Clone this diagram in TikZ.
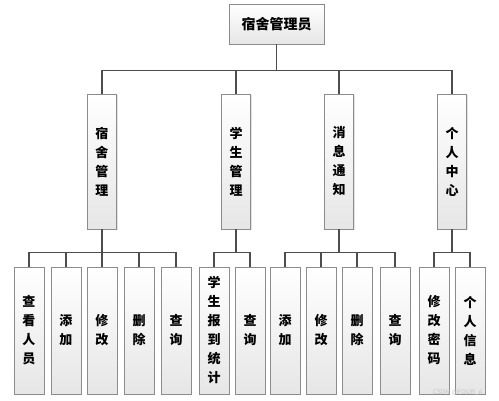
\documentclass[tikz,border=0pt]{standalone}
\usepackage{fontspec}
\setmainfont{Noto Sans CJK SC}
\usepackage{xcolor}
\usepackage{tikz}
\usetikzlibrary{positioning, shadows}
\definecolor{linkgray}{HTML}{4D4D4D}
\definecolor{boxline}{HTML}{8C8C8C}
\definecolor{boxfill}{HTML}{E6E6E6}

\begin{document}
\begin{tikzpicture}[x=1pt, y=1pt,
    box/.style={rectangle, draw=boxline, line width=0.8pt,
                top color=white, bottom color=boxfill,
                drop shadow={shadow xshift=1.2pt, shadow yshift=-1.2pt, fill=gray!45},
                inner sep=0pt, align=center, font=\bfseries\fontsize{13}{19}\selectfont},
    rootbox/.style={box, minimum width=95pt, minimum height=40pt,
                    font=\bfseries\fontsize{14}{16}\selectfont},
    modbox/.style={box, minimum width=29pt, minimum height=135pt},
    leafbox/.style={box, minimum width=30pt, minimum height=127pt},
    link/.style={draw=linkgray, line width=1.2pt}
]
    \useasboundingbox (0,0) rectangle (499,401);

    \node[rootbox] (admin) at (276.5,377) {宿舍管理员};

    % modules
    \node[modbox] (dorm) at (102,239.5) {宿\\舍\\管\\理};
    \node[modbox] (stu)  at (236,239.5) {学\\生\\管\\理};
    \node[modbox] (msg)  at (339,239.5) {消\\息\\通\\知};
    \node[modbox] (me)   at (452,239.5) {个\\人\\中\\心};

    \foreach \m in {dorm, stu, msg, me}
        \draw[link] (admin.south) -- ++(0,-26) -| (\m.north);

    % functions
    \foreach \x/\n/\t in {29/dview/查\\看\\人\\员, 66/dadd/添\\加, 102/dedit/修\\改,
                          139/ddel/删\\除, 176/dquery/查\\询,
                          214/sreport/学\\生\\报\\到\\统\\计, 250/squery/查\\询,
                          285/madd/添\\加, 321/medit/修\\改, 357/mdel/删\\除, 395/mquery/查\\询,
                          434/pwd/修\\改\\密\\码, 470/info/个\\人\\信\\息}
        \node[leafbox] (\n) at (\x,70.5) {\t};

    \foreach \c in {dview, dadd, dedit, ddel, dquery}
        \draw[link] (dorm.south) -- ++(0,-23) -| (\c.north);
    \foreach \c in {sreport, squery}
        \draw[link] (stu.south) -- ++(0,-23) -| (\c.north);
    \foreach \c in {madd, medit, mdel, mquery}
        \draw[link] (msg.south) -- ++(0,-23) -| (\c.north);
    \foreach \c in {pwd, info}
        \draw[link] (me.south) -- ++(0,-23) -| (\c.north);

    \node[font=\fontsize{6.5}{7}\selectfont, text=gray!45, anchor=east] (mark) at (486,8) {CSDN @FOUR\_A};
\end{tikzpicture}
\end{document}
